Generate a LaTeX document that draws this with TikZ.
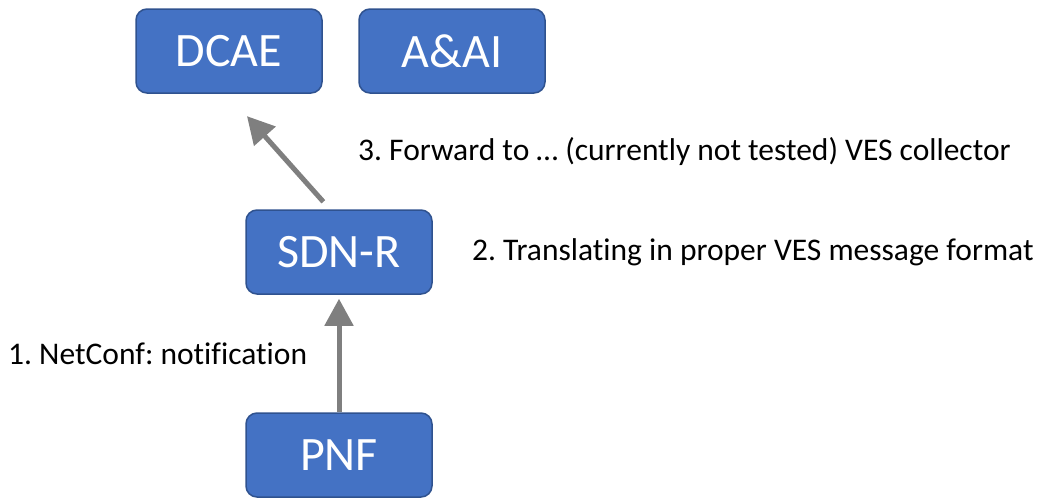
\documentclass[tikz,border=0pt]{standalone}
\usepackage{fontspec}
\setmainfont{Carlito}[Ligatures=NoCommon]
\usetikzlibrary{positioning, arrows.meta}
\definecolor{BoxBlue}{RGB}{68, 114, 196}
\definecolor{BoxEdge}{RGB}{47, 82, 143}
\definecolor{FlowGray}{RGB}{127, 127, 127}
\frenchspacing

\tikzset{
  comp/.style={draw=BoxEdge, line width=1.5pt, fill=BoxBlue, rounded corners=11pt,
    minimum width=186pt, minimum height=84pt, text=white,
    font=\fontsize{48}{52}\selectfont},
  flow/.style={draw=FlowGray, line width=5pt, -{Triangle[length=27pt,width=28pt]}},
  note/.style={font=\fontsize{31.5}{35}\selectfont, anchor=west, inner sep=0pt}
}

\begin{document}
\begin{tikzpicture}[x=1pt, y=-1pt]
    \useasboundingbox (0,0) rectangle (1052,499);

    % Components
    \node[comp] (dcae) at (229,51) {DCAE};
    \node[comp] (aai) at (452,51) {A\&AI};
    \node[comp] (sdnr) at (339,252) {SDN-R};
    \node[comp] (pnf) at (339,455) {PNF};

    % Flows
    \draw[flow, shorten >=4pt] (pnf.north) -- (sdnr.south);
    \draw[flow, shorten <=10pt, shorten >=30pt] ([xshift=-9pt]sdnr.north) -- ([xshift=-2pt]dcae.south);

    % Steps
    \node[note] (step1) at (8,354) {1. NetConf: notification};
    \node[note] (step2) at (472,252) {2. Translating in proper VES message format};
    \node[note] (step3) at (358,152) {3. Forward to … (currently not tested) VES collector};
\end{tikzpicture}
\end{document}
